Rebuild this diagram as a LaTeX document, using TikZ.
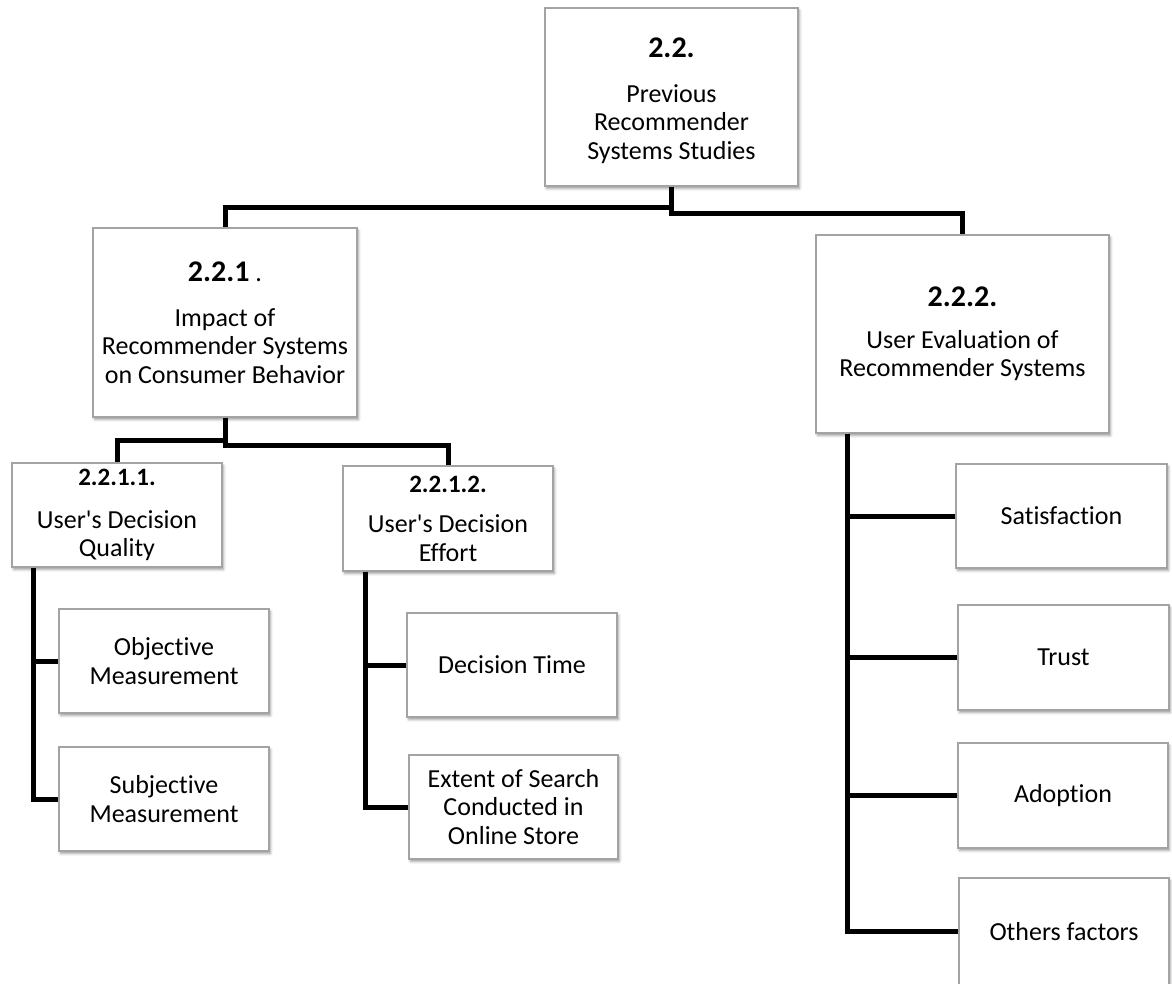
\documentclass[tikz,border=0pt]{standalone}
\usepackage{fontspec}
\setmainfont{Carlito}[Ligatures={TeXOff,CommonOff}]
\usetikzlibrary{shadows.blur}
\definecolor{boxgray}{HTML}{A3A3A3}
\newcommand\bighead[1]{{\fontsize{30}{30}\selectfont\bfseries #1}}
\newcommand\smallhead[1]{{\fontsize{25}{25}\selectfont\bfseries #1}}
\begin{document}
\begin{tikzpicture}[x=1pt,y=-1pt,
  box/.style={draw=boxgray, line width=1.2pt, fill=white, align=center,
    inner sep=2pt, font=\fontsize{26}{28.5}\selectfont,
    blur shadow={shadow xshift=1.5pt, shadow yshift=-2.5pt,
      shadow blur radius=2.5pt, shadow opacity=40}},
  conn/.style={line width=5pt, black}]
\useasboundingbox (0,0) rectangle (1172,983);

% top level
\node[box, minimum width=253pt, minimum height=178pt] (top) at (671.5,97)
  {\bighead{\rule{0pt}{27pt}2.2.}\\[16.5pt]Previous\\Recommender\\Systems Studies};

% second level
\node[box, minimum width=264pt, minimum height=189pt] (b221) at (225,322.5)
  {\bighead{2.2.1} {\fontsize{26}{26}\selectfont .}\\[16.5pt]Impact of\\Recommender Systems\\on Consumer Behavior};
\node[box, minimum width=293pt, minimum height=198pt] (b222) at (962.5,334)
  {\bighead{2.2.2.}\\[13.5pt]User Evaluation of\\Recommender Systems};

% third level, left branch
\node[box, minimum width=210pt, minimum height=104pt] (b2211) at (117,515)
  {\smallhead{2.2.1.1.}\\[14pt]User's Decision\\Quality};
\node[box, minimum width=210pt, minimum height=105pt] (b2212) at (448,518.5)
  {\smallhead{2.2.1.2.}\\[12pt]User's Decision\\Effort};

% leaves under 2.2.1.1.
\node[box, minimum width=210pt, minimum height=104pt] (obj) at (164,661)
  {Objective\\Measurement};
\node[box, minimum width=210pt, minimum height=104pt] (subj) at (164,799)
  {Subjective\\Measurement};

% leaves under 2.2.1.2.
\node[box, minimum width=210pt, minimum height=104pt] (dtime) at (512,665)
  {Decision Time};
\node[box, minimum width=209pt, minimum height=104pt] (extent) at (513.5,807)
  {Extent of Search\\Conducted in\\Online Store};

% leaves under 2.2.2.
\node[box, minimum width=211pt, minimum height=104pt] (sat) at (1061.5,516)
  {Satisfaction};
\node[box, minimum width=211pt, minimum height=105pt] (trust) at (1063.5,657.5)
  {Trust};
\node[box, minimum width=210pt, minimum height=105pt] (adopt) at (1063,795.5)
  {Adoption};
\node[box, minimum width=210pt, minimum height=107pt] (others) at (1064,931.5)
  {Others factors};

% connectors
\draw[conn] (top.south) -- ++(0,21) -| (b221.north);
\draw[conn] (top.south) -- ++(0,27) -| (b222.north);
\draw[conn] (b221.south) -- ++(0,23) -| (b2211.north);
\draw[conn] (b221.south) -- ++(0,28) -| (b2212.north);
\draw[conn] ([xshift=-84pt]b2211.south) |- (obj.west);
\draw[conn] ([xshift=-84pt]b2211.south) |- (subj.west);
\draw[conn] ([xshift=-83pt]b2212.south) |- (dtime.west);
\draw[conn] ([xshift=-83pt]b2212.south) |- (extent.west);
\draw[conn] ([xshift=-115.5pt]b222.south) |- (sat.west);
\draw[conn] ([xshift=-115.5pt]b222.south) |- (trust.west);
\draw[conn] ([xshift=-115.5pt]b222.south) |- (adopt.west);
\draw[conn] ([xshift=-115.5pt]b222.south) |- (others.west);
\end{tikzpicture}
\end{document}
